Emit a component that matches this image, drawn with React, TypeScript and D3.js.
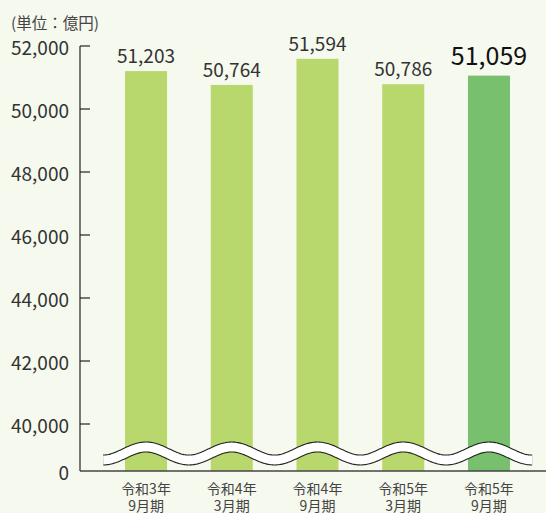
import React from "react";
import * as d3 from "d3";

const periodYear = ["令和3年", "令和4年", "令和4年", "令和5年", "令和5年"];
const periodMonth = ["9月期", "3月期", "9月期", "3月期", "9月期"];
const values = [51203, 50764, 51594, 50786, 51059];
const yTicks = [40000, 42000, 44000, 46000, 48000, 50000, 52000];
const highlightIndex = 4;
const unitLabel = "(単位：億円)";

const W = 546;
const H = 513;
const FONT = "'Noto Sans CJK JP', 'Noto Sans', sans-serif";

export default function App() {
  const axisX = 80;
  const baseY = 471;
  const keys = values.map((_, i) => String(i));
  const x = d3
    .scaleBand<string>()
    .domain(keys)
    .range([axisX, 555])
    .paddingInner(0.51)
    .paddingOuter(0.525);
  const y = d3.scaleLinear().domain([40000, 52000]).range([424, 46]);
  const fmt = d3.format(",");

  const step = x.step();
  const bw = x.bandwidth();
  const firstC = (x(keys[0]) as number) + bw / 2;
  const lastC = (x(keys[keys.length - 1]) as number) + bw / 2;
  const wx0 = firstC - step / 2;
  const wx1 = lastC + step / 2;
  const waveMid = 453.5;
  const amp = 6.5;
  const pts: [number, number][] = d3
    .range(wx0, wx1 + 0.5, 1)
    .map((px) => [px, waveMid - amp * Math.cos((2 * Math.PI * (px - firstC)) / step)]);
  const wavePath = d3.line()(pts) || "";

  return (
    <div style={{ position: "absolute", left: 0, top: 0 }}>
      <svg width={W} height={H} style={{ display: "block", background: "#f6f9ee" }}>
        <rect x={0} y={0} width={W} height={H} fill="#f6f9ee" />
        <text x={11} y={29} fontFamily={FONT} fontSize={15.5} fill="#444">
          {unitLabel}
        </text>
        {/* bars */}
        {values.map((v, i) => (
          <rect
            key={i}
            x={x(keys[i]) as number}
            y={y(v)}
            width={bw}
            height={baseY - y(v)}
            fill={i === highlightIndex ? "#78c06e" : "#b8d76c"}
          />
        ))}
        {/* value labels */}
        {values.map((v, i) => (
          <text
            key={i}
            x={(x(keys[i]) as number) + bw / 2}
            y={y(v) - (i === highlightIndex ? 11 : 8)}
            textAnchor="middle"
            fontFamily={FONT}
            fontSize={i === highlightIndex ? 25 : 19}
            fill={i === highlightIndex ? "#111" : "#333"}
          >
            {fmt(v)}
          </text>
        ))}
        {/* y axis */}
        <line x1={axisX} x2={axisX} y1={y(52000)} y2={baseY} stroke="#222" strokeWidth={1.2} />
        {yTicks.map((t) => (
          <g key={t}>
            <line x1={axisX} x2={axisX + 10} y1={y(t)} y2={y(t)} stroke="#222" strokeWidth={1.2} />
            <text
              x={69}
              y={y(t) + 9}
              textAnchor="end"
              fontFamily={FONT}
              fontSize={19}
              fill="#333"
            >
              {fmt(t)}
            </text>
          </g>
        ))}
        <text x={69} y={baseY + 9} textAnchor="end" fontFamily={FONT} fontSize={19} fill="#333">
          0
        </text>
        {/* break wave */}
        <path d={wavePath} fill="none" stroke="#222" strokeWidth={11} strokeLinecap="butt" />
        <path d={wavePath} fill="none" stroke="#ffffff" strokeWidth={8.8} strokeLinecap="butt" />
        {/* baseline */}
        <line x1={axisX} x2={W} y1={baseY} y2={baseY} stroke="#444" strokeWidth={1.5} />
        {/* x labels */}
        {keys.map((k, i) => (
          <g key={k}>
            <text
              x={(x(k) as number) + bw / 2}
              y={494}
              textAnchor="middle"
              fontFamily={FONT}
              fontSize={14}
              fill="#444"
            >
              {periodYear[i]}
            </text>
            <text
              x={(x(k) as number) + bw / 2}
              y={511}
              textAnchor="middle"
              fontFamily={FONT}
              fontSize={14}
              fill="#444"
            >
              {periodMonth[i]}
            </text>
          </g>
        ))}
      </svg>
    </div>
  );
}
